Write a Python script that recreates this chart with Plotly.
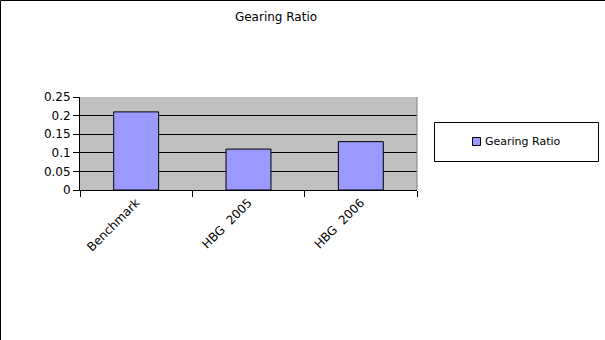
import plotly.graph_objects as go

# Gearing ratio by period
categories = ["Benchmark", "HBG  2005", "HBG  2006"]
gearing_ratio = [0.21, 0.11, 0.13]
y_ticks = [0, 0.05, 0.1, 0.15, 0.2, 0.25]
y_tick_labels = ["0", "0.05", "0.1", "0.15", "0.2", "0.25"]
series_name = "Gearing Ratio"
bar_color = "#9999FF"

W, H = 605, 340
L, R, T, B = 80, 188, 97, 150
pw, ph = W - L - R, H - T - B

def px_to_paper_x(px):
    return (px - L) / pw

def px_to_paper_y(py):
    return (H - B - py) / ph

fig = go.Figure()
fig.add_trace(go.Bar(
    x=categories,
    y=gearing_ratio,
    name=series_name,
    marker=dict(color=bar_color, line=dict(color="black", width=1)),
    showlegend=False,
))

fig.update_layout(
    width=W, height=H,
    margin=dict(l=L, r=R, t=T, b=B, autoexpand=False),
    paper_bgcolor="white",
    plot_bgcolor="#C0C0C0",
    font=dict(family="DejaVu Sans", size=12, color="black"),
    bargap=0.6,
    title=dict(text=series_name, x=276 / W, xanchor="center",
               y=1 - 17 / H, yanchor="middle",
               font=dict(size=12, family="DejaVu Sans")),
    xaxis=dict(
        type="category",
        tickson="boundaries",
        ticks="outside", ticklen=6, tickcolor="black",
        showline=True, linecolor="black", linewidth=1,
        showgrid=False, tickangle=-45,
        tickfont=dict(size=12),
    ),
    yaxis=dict(
        range=[0, 0.25],
        tickvals=y_ticks, ticktext=y_tick_labels,
        ticks="outside", ticklen=6, tickcolor="black",
        showline=True, linecolor="black", linewidth=1,
        showgrid=True, gridcolor="black", gridwidth=1,
        zeroline=False,
        tickfont=dict(size=12),
    ),
    shapes=[
        # legend frame
        dict(type="rect", xref="paper", yref="paper",
             x0=px_to_paper_x(434.5), x1=px_to_paper_x(598.5),
             y0=px_to_paper_y(122.5), y1=px_to_paper_y(161.5),
             line=dict(color="black", width=1), fillcolor="white"),
        # legend swatch
        dict(type="rect", xref="paper", yref="paper",
             x0=px_to_paper_x(472.5), x1=px_to_paper_x(480.5),
             y0=px_to_paper_y(137.5), y1=px_to_paper_y(145.5),
             line=dict(color="black", width=1), fillcolor=bar_color),
        # right edge of plot area
        dict(type="line", xref="paper", yref="paper",
             x0=1, x1=1, y0=0, y1=1,
             line=dict(color="#808080", width=1)),
        # chart frame, left and top edges
        dict(type="line", xref="paper", yref="paper",
             x0=px_to_paper_x(0.5), x1=px_to_paper_x(0.5),
             y0=px_to_paper_y(H), y1=px_to_paper_y(0.5),
             line=dict(color="black", width=1)),
        dict(type="line", xref="paper", yref="paper",
             x0=px_to_paper_x(0.5), x1=px_to_paper_x(W),
             y0=px_to_paper_y(0.5), y1=px_to_paper_y(0.5),
             line=dict(color="black", width=1)),
    ],
    annotations=[
        dict(text=series_name, xref="paper", yref="paper",
             x=px_to_paper_x(483), y=px_to_paper_y(141.5),
             xanchor="left", yanchor="middle", showarrow=False,
             font=dict(size=11, family="DejaVu Sans")),
    ],
)

fig.write_html("out.html")
